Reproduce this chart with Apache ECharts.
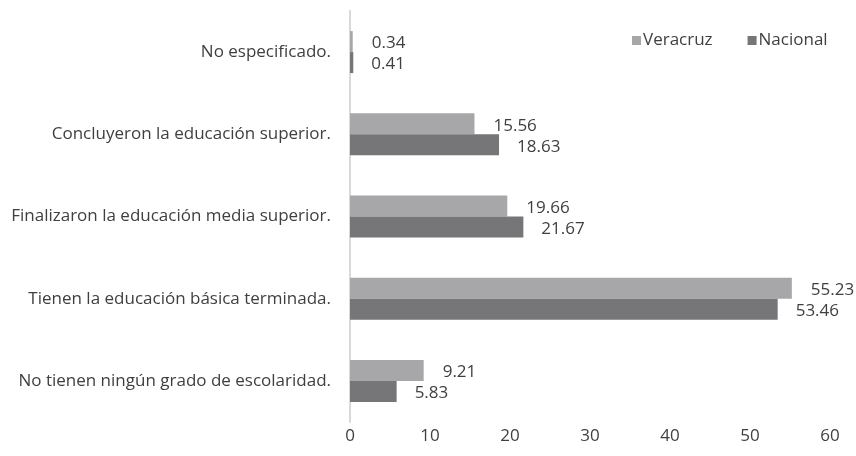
<!DOCTYPE html>
<html><head><meta charset="utf-8">
<script src="https://cdn.jsdelivr.net/npm/echarts@6/dist/echarts.min.js"></script>
<style>html,body{margin:0;padding:0;background:#fff}#c{width:856px;height:456px}</style>
</head><body><div id="c"></div>
<script>
var categories = ['No tienen ningún grado de escolaridad.', 'Tienen la educación básica terminada.', 'Finalizaron la educación media superior.', 'Concluyeron la educación superior.', 'No especificado.'];
var veracruz = [9.21, 55.23, 19.66, 15.56, 0.34];
var nacional = [5.83, 53.46, 21.67, 18.63, 0.41];
var xTicks = [0, 10, 20, 30, 40, 50, 60];

var font = 'Open Sans';
var txt = '#3f3f3f';
var fs = 17;
var chart = echarts.init(document.getElementById('c'));
chart.setOption({
  animation: false,
  textStyle: {fontFamily: font},
  legend: {
    data: ['Veracruz', 'Nacional'],
    top: 27, left: 627,
    itemWidth: 9, itemHeight: 9, itemGap: 35,
    icon: 'rect',
    textStyle: {fontFamily: font, fontSize: fs, color: txt, padding: [0, 0, 0, -3]}
  },
  grid: {left: 350, right: 26, top: 11, bottom: 34, containLabel: false},
  xAxis: {
    type: 'value', min: xTicks[0], max: xTicks[xTicks.length - 1], interval: 10,
    axisLine: {show: false}, axisTick: {show: false}, splitLine: {show: false},
    axisLabel: {fontFamily: font, fontSize: fs, color: txt, margin: 6}
  },
  yAxis: {
    type: 'category', data: categories,
    axisLine: {show: true, lineStyle: {color: '#d9d9d9', width: 2}},
    axisTick: {show: false},
    axisLabel: {fontFamily: font, fontSize: fs, color: txt, margin: 19}
  },
  series: [
    {name: 'Veracruz', type: 'bar', data: veracruz, barWidth: 21, barGap: '0%',
     itemStyle: {color: '#a7a7a9'},
     label: {show: true, position: 'right', distance: 19, fontFamily: font, fontSize: fs, color: txt, offset: [0, 2]}},
    {name: 'Nacional', type: 'bar', data: nacional, barWidth: 21, barGap: '0%',
     itemStyle: {color: '#767678'},
     label: {show: true, position: 'right', distance: 18, fontFamily: font, fontSize: fs, color: txt, offset: [0, 2]}}
  ]
});
</script></body></html>
